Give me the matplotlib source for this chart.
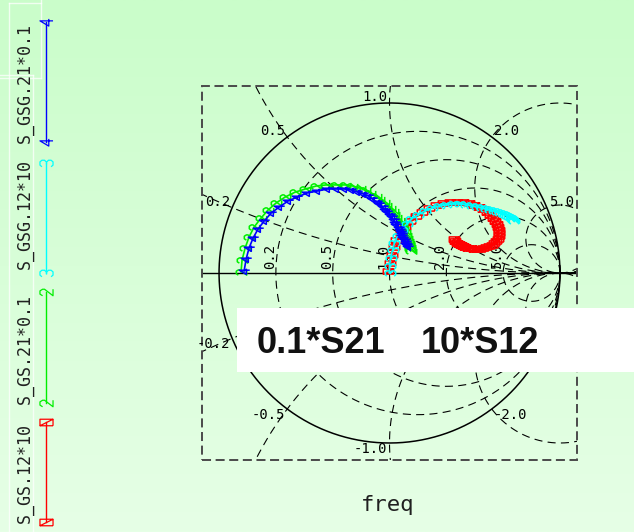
import numpy as np
import matplotlib
matplotlib.use("Agg")
import matplotlib.pyplot as plt
from matplotlib.path import Path
from matplotlib.markers import MarkerStyle
from matplotlib.transforms import Affine2D
from matplotlib.patches import Rectangle

plt.rcParams['lines.scale_dashes'] = False

W, H, DPI = 634, 532, 100

# ---- traces (reflection-plane coordinates, real / imaginary) ----
gsg21_re = [-0.853, -0.841, -0.824, -0.800, -0.771, -0.735, -0.694, -0.647, -0.594, -0.541,
            -0.482, -0.424, -0.365, -0.312, -0.265, -0.224, -0.188, -0.153, -0.124, -0.100,
            -0.076, -0.059, -0.041, -0.024, -0.012, 0.000, 0.012, 0.024, 0.035, 0.041,
            0.053, 0.059, 0.065, 0.071, 0.076, 0.082, 0.088, 0.094, 0.094, 0.100, 0.106]
gsg21_im = [0.012, 0.082, 0.147, 0.206, 0.259, 0.306, 0.353, 0.388, 0.424, 0.447,
            0.471, 0.482, 0.494, 0.494, 0.494, 0.488, 0.476, 0.465, 0.453, 0.435,
            0.418, 0.406, 0.388, 0.371, 0.359, 0.341, 0.329, 0.312, 0.294, 0.282,
            0.265, 0.253, 0.241, 0.229, 0.218, 0.206, 0.194, 0.182, 0.171, 0.165, 0.153]

gs21_re = [-0.871, -0.865, -0.847, -0.824, -0.794, -0.753, -0.712, -0.665, -0.612, -0.553,
           -0.494, -0.429, -0.371, -0.312, -0.259, -0.218, -0.176, -0.141, -0.112, -0.082,
           -0.059, -0.035, -0.018, 0.000, 0.018, 0.029, 0.041, 0.053, 0.065, 0.071,
           0.082, 0.088, 0.094, 0.100, 0.106, 0.112, 0.112, 0.118, 0.118, 0.124]
gs21_im = [0.006, 0.076, 0.147, 0.212, 0.271, 0.324, 0.371, 0.412, 0.447, 0.476,
           0.494, 0.512, 0.518, 0.518, 0.518, 0.512, 0.500, 0.488, 0.471, 0.453,
           0.435, 0.418, 0.400, 0.382, 0.365, 0.347, 0.329, 0.312, 0.294, 0.276,
           0.259, 0.241, 0.224, 0.206, 0.188, 0.176, 0.165, 0.153, 0.141, 0.129]

gsg12_re = [0.000, 0.000, 0.006, 0.018, 0.029, 0.047, 0.071, 0.100, 0.129, 0.165,
            0.206, 0.247, 0.288, 0.329, 0.371, 0.412, 0.447, 0.482, 0.512, 0.541,
            0.565, 0.588, 0.612, 0.629, 0.647, 0.665, 0.676, 0.688, 0.700, 0.712,
            0.718, 0.724, 0.729]
gsg12_im = [0.000, 0.041, 0.088, 0.135, 0.176, 0.218, 0.253, 0.288, 0.318, 0.341,
            0.365, 0.382, 0.394, 0.400, 0.406, 0.406, 0.400, 0.394, 0.388, 0.382,
            0.376, 0.371, 0.365, 0.359, 0.353, 0.347, 0.341, 0.335, 0.329, 0.324,
            0.318, 0.312, 0.306]

gs12_re = [-0.006, 0.000, 0.012, 0.024, 0.041, 0.065, 0.088, 0.118, 0.153, 0.188,
           0.229, 0.271, 0.312, 0.353, 0.394, 0.429, 0.465, 0.494, 0.524, 0.547,
           0.571, 0.588, 0.606, 0.618, 0.629, 0.635, 0.641, 0.641, 0.641, 0.635,
           0.624, 0.612, 0.600, 0.582, 0.565, 0.547, 0.529, 0.512, 0.494, 0.476,
           0.459, 0.441, 0.429, 0.418, 0.406, 0.394, 0.382, 0.376]
gs12_im = [0.012, 0.059, 0.106, 0.153, 0.194, 0.235, 0.271, 0.306, 0.335, 0.359,
           0.382, 0.400, 0.412, 0.418, 0.418, 0.418, 0.412, 0.400, 0.388, 0.376,
           0.359, 0.341, 0.324, 0.306, 0.288, 0.271, 0.253, 0.235, 0.218, 0.200,
           0.188, 0.176, 0.165, 0.159, 0.153, 0.147, 0.141, 0.141, 0.141, 0.147,
           0.147, 0.153, 0.159, 0.165, 0.171, 0.176, 0.188, 0.200]

series_names = ["S_GSG.21*0.1", "S_GSG.12*10", "S_GS.21*0.1", "S_GS.12*10"]
series_colors = ["#0000ff", "#00ffff", "#00ee00", "#ff0000"]
series_glyphs = ["4", "3", "2", "0"]

resistances = [0.2, 0.5, 1.0, 2.0, 5.0]
reactances = [0.2, 0.5, 1.0, 2.0, 5.0]

# ---- stroke-style digit markers, turned a quarter turn like the axis text ----
M, L = Path.MOVETO, Path.LINETO
glyph_paths = {
    "4": Path([(0.25, -1), (0.25, 1), (-0.55, -0.35), (0.55, -0.35)], [M, L, L, L]),
    "3": Path([(-0.5, 0.7), (-0.25, 1), (0.25, 1), (0.5, 0.7), (0.5, 0.3), (0.2, 0), (-0.15, 0),
               (0.2, 0), (0.5, -0.3), (0.5, -0.7), (0.25, -1), (-0.25, -1), (-0.5, -0.7)],
              [M, L, L, L, L, L, L, M, L, L, L, L, L]),
    "2": Path([(-0.5, 0.6), (-0.25, 1), (0.25, 1), (0.5, 0.6), (0.5, 0.3), (-0.5, -1), (0.5, -1)],
              [M, L, L, L, L, L, L]),
    "0": Path([(-0.5, -1), (0.5, -1), (0.5, 1), (-0.5, 1), (-0.5, -1), (-0.5, 1), (0.5, -1)],
              [M, L, L, L, L, M, L]),
}
quarter = Affine2D().rotate_deg(90)
markers = {k: MarkerStyle(p, transform=quarter) for k, p in glyph_paths.items()}

fig = plt.figure(figsize=(W / DPI, H / DPI), dpi=DPI)

# pale green backdrop, slightly lighter toward the bottom
bg = fig.add_axes([0, 0, 1, 1], zorder=-10)
frac = np.linspace(0, 1, 256)[:, None, None]
top_c = np.array([202, 253, 202]) / 255.0
bot_c = np.array([230, 255, 230]) / 255.0
bg.imshow(top_c + (bot_c - top_c) * frac, aspect='auto', extent=[0, 1, 0, 1], origin='upper')
bg.set_xlim(0, 1); bg.set_ylim(0, 1); bg.axis('off')

# ---- Smith chart ----
ax = fig.add_axes([202 / W, 1 - 460 / H, 375 / W, 374 / H], zorder=1)
ax.set_xlim(-1.1, 1.1); ax.set_ylim(-1.1, 1.1); ax.axis('off')

t = np.linspace(0, 2 * np.pi, 2000)
grid_ls = (0, (5.8, 3.8))
for r in resistances:
    c, rad = r / (1 + r), 1 / (1 + r)
    ax.plot(c + rad * np.cos(t), rad * np.sin(t), color='black', lw=0.8, ls=grid_ls, zorder=1)
for x in reactances:
    rad = 1 / x
    for s in (1, -1):
        ax.plot(1 + rad * np.cos(t), s * rad + rad * np.sin(t), color='black', lw=0.8,
                ls=grid_ls, zorder=1)
ax.plot(np.cos(t), np.sin(t), color='black', lw=1.1, zorder=2)
ax.plot([-1.1, 1.1], [0, 0], color='black', lw=1.0, zorder=2)
ax.add_patch(Rectangle((-1.1, -1.1), 2.2, 2.2, fill=False, ec='#4a4a4a', lw=1.4,
                       ls=(0, (6.5, 3.3)), clip_on=False, zorder=2))

lab_font = dict(family='DejaVu Sans Mono', fontsize=10, color='black')
for r in resistances:
    ax.annotate(f"{r:.1f}", xy=((r - 1) / (r + 1), 0), xytext=(-6, 4), textcoords='offset pixels',
                rotation=90, ha='center', va='bottom', annotation_clip=False, zorder=3, **lab_font)
for x in reactances:
    u, v = (x * x - 1) / (x * x + 1), 2 * x / (x * x + 1)
    left = x <= 1.0
    for s in (1, -1):
        txt = f"{x:.1f}" if s > 0 else f"-{x:.1f}"
        ax.annotate(txt, xy=(u, s * v), xytext=(-2 if left else 2, 6 * s),
                    textcoords='offset pixels', ha='right' if left else 'left', va='center',
                    annotation_clip=False, zorder=3, **lab_font)

traces = [(gs12_re, gs12_im, 3), (gs21_re, gs21_im, 2), (gsg12_re, gsg12_im, 1), (gsg21_re, gsg21_im, 0)]
for re, im, k in traces:
    ax.plot(re, im, color=series_colors[k], lw=1.2, marker=markers[series_glyphs[k]], ms=7.5,
            mfc='none', mec=series_colors[k], mew=1.1, zorder=4 + (3 - k))

# ---- legend, frame lines and captions (pixel space) ----
ov = fig.add_axes([0, 0, 1, 1], zorder=5)
ov.set_xlim(0, W); ov.set_ylim(H, 0); ov.axis('off')

for xs, ys in [([9, 9], [3, H]), ([9, 41], [3, 3]), ([41, 41], [0, 78]), ([0, 41], [78, 78]),
               ([0, 33], [75, 75]), ([33, 33], [75, H])]:
    ov.plot(xs, ys, color='white', lw=1.0, alpha=0.75)

legend_spans = [(22, 142), (163, 273), (292, 403), (422, 522)]
legend_text_y = [83, 214, 349, 473]
for k, name in enumerate(series_names):
    y0, y1 = legend_spans[k]
    ov.plot([46, 46], [y0, y1], color=series_colors[k], lw=1.0,
            marker=markers[series_glyphs[k]], ms=9.4, mfc='none', mec=series_colors[k], mew=0.9)
    ov.text(25, legend_text_y[k], name, rotation=90, ha='center', va='center',
            family='DejaVu Sans Mono', fontsize=12, color='#202020')

ov.add_patch(Rectangle((237, 308), W - 237, 64, fc='white', ec='none'))
ov.text(257, 353, "0.1*S21", family='Liberation Sans', fontweight='bold', fontsize=26,
        ha='left', va='baseline', color='#111111')
ov.text(421, 353, "10*S12", family='Liberation Sans', fontweight='bold', fontsize=26,
        ha='left', va='baseline', color='#111111')

ov.text(388, 505, "freq", family='DejaVu Sans Mono', fontsize=16, ha='center', va='center',
        color='#202020')

fig.savefig("out.png", dpi=DPI)
